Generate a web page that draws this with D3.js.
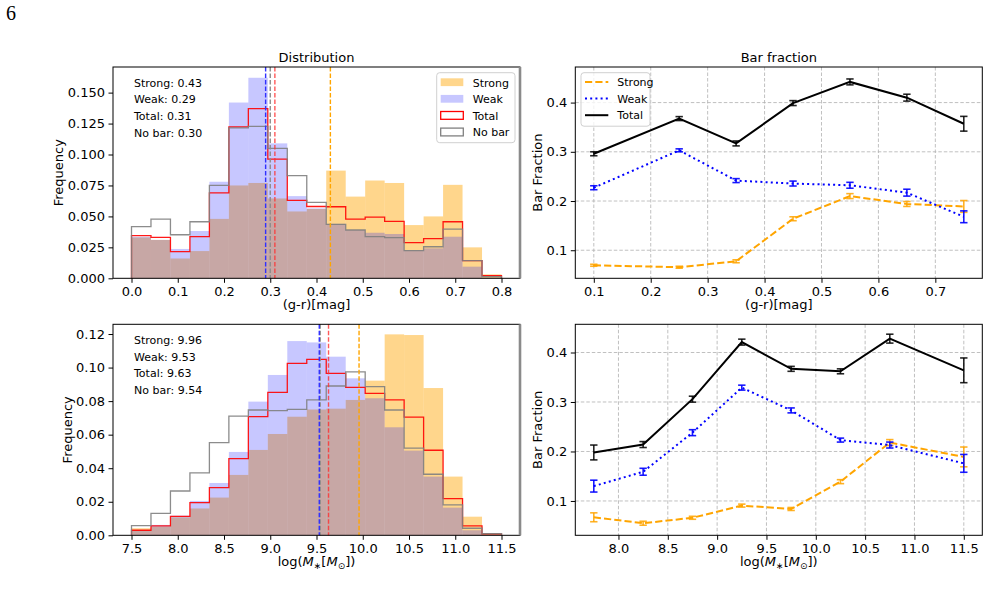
<!DOCTYPE html>
<html><head><meta charset="utf-8">
<script src="https://cdn.jsdelivr.net/npm/d3@7"></script>
<style>body{margin:0;background:#fff} text{font-family:"DejaVu Sans",sans-serif;fill:#000}</style>
</head><body><svg id="c" width="990" height="603"></svg>
<script>
// ---------- DATA ----------
const colorRange = [0, 0.8];
const massRange = [7.5, 11.5];
const nBins = 19;

const colorStrong = [0.033,0.031,0.016,0.022,0.048,0.075,0.077,0.0645,0.054,0.056,0.087,0.066,0.079,0.077,0.043,0.050,0.0755,0.025,0.0032];
const colorWeak   = [0.0335,0.031,0.0237,0.0382,0.078,0.142,0.162,0.109,0.0664,0.0565,0.044,0.039,0.0368,0.0358,0.0228,0.0242,0.0336,0.0094,0.0005];
const colorTotal  = [0.0344,0.0331,0.0215,0.0336,0.069,0.1223,0.137,0.0962,0.0629,0.058,0.0578,0.0478,0.0495,0.046,0.0288,0.032,0.0457,0.0142,0.0022];
const colorNoBar  = [0.0417,0.0478,0.0352,0.0457,0.075,0.1215,0.1228,0.105,0.083,0.0613,0.0435,0.039,0.0336,0.0328,0.0223,0.0255,0.0398,0.0142,0.0013];
const colorMedians = {Strong:0.43, Weak:0.29, Total:0.31, "No bar":0.30};

const massStrong = [0.0042,0.0052,0.0107,0.016,0.0225,0.036,0.0509,0.0604,0.0707,0.075,0.0755,0.0807,0.0922,0.1198,0.1194,0.0878,0.035,0.0111,0.0012];
const massWeak   = [0.0032,0.0062,0.0117,0.0205,0.0312,0.0497,0.0797,0.0956,0.1158,0.115,0.1065,0.0936,0.0817,0.0644,0.0505,0.035,0.0165,0.003,0.0005];
const massTotal  = [0.003,0.0056,0.0113,0.0195,0.0284,0.0457,0.0707,0.0852,0.1025,0.1049,0.0966,0.0882,0.0846,0.0807,0.0705,0.0507,0.0219,0.0056,0.0008];
const massNoBar  = [0.0058,0.0131,0.0264,0.0372,0.0552,0.0711,0.0747,0.0743,0.0751,0.0807,0.089,0.0974,0.0886,0.0747,0.052,0.0364,0.0181,0.0042,0.001];
const massMedians = {Strong:9.96, Weak:9.53, Total:9.63, "No bar":9.54};

const fracColorX = [0.1,0.25,0.35,0.45,0.55,0.65,0.75];
const fracColorStrong = [0.0695,0.0655,0.0776,0.164,0.21,0.194,0.189];
const fracColorStrongErr = [0.002,0.002,0.003,0.004,0.005,0.005,0.012];
const fracColorWeak = [0.227,0.303,0.2415,0.2355,0.232,0.217,0.168];
const fracColorWeakErr = [0.004,0.003,0.004,0.005,0.006,0.007,0.012];
const fracColorTotal = [0.296,0.3675,0.317,0.399,0.442,0.410,0.357];
const fracColorTotalErr = [0.004,0.004,0.005,0.005,0.006,0.007,0.015];

const fracMassX = [7.75,8.25,8.75,9.25,9.75,10.25,10.75,11.5];
const fracMassStrong = [0.067,0.055,0.066,0.0906,0.0838,0.139,0.218,0.189];
const fracMassStrongErr = [0.009,0.004,0.003,0.003,0.003,0.004,0.006,0.02];
const fracMassWeak = [0.130,0.159,0.238,0.329,0.283,0.223,0.213,0.176];
const fracMassWeakErr = [0.012,0.007,0.006,0.005,0.005,0.004,0.006,0.018];
const fracMassTotal = [0.198,0.214,0.3057,0.421,0.367,0.362,0.428,0.364];
const fracMassTotalErr = [0.015,0.006,0.006,0.006,0.005,0.005,0.009,0.025];

const colorXTicks = [0,0.1,0.2,0.3,0.4,0.5,0.6,0.7,0.8];
const colorYTicks = [0,0.025,0.05,0.075,0.1,0.125,0.15];
const massXTicks = [7.5,8,8.5,9,9.5,10,10.5,11,11.5];
const massYTicks = [0,0.02,0.04,0.06,0.08,0.1,0.12];
const fracColorXTicks = [0.1,0.2,0.3,0.4,0.5,0.6,0.7];
const fracMassXTicks = [8,8.5,9,9.5,10,10.5,11,11.5];
const fracYTicks = [0.1,0.2,0.3,0.4];
const seriesNames = ["Strong","Weak","Total","No bar"];

// ---------- STYLE ----------
const C = {Strong:"#ffa500", Weak:"#0000ff", Total:"#ff0000", "No bar":"#808080"};
const MED_C = {Strong:"#ffa500", Weak:"#3030ff", Total:"#ff3030", "No bar":"#8c8c8c"};
const OP_STRONG = 0.45, OP_WEAK = 0.22;
const svg = d3.select("#c");
svg.append("text").attr("x",6).attr("y",20).style("font-family","'Liberation Serif','DejaVu Serif',serif").style("font-size","20px").text("6");

function frame(g, w, h, greyRight){
  g.append("rect").attr("width",w).attr("height",h).attr("fill","none").attr("stroke","#000").attr("stroke-width",1);
  if(greyRight) g.append("line").attr("x1",w).attr("x2",w).attr("y1",0).attr("y2",h).attr("stroke","#8a8a8a").attr("stroke-width",2.6);
}
function axes(g, x, y, h, xt, yt, xf, yf){
  const ax = g.append("g").attr("transform",`translate(0,${h})`)
    .call(d3.axisBottom(x).tickValues(xt).tickFormat(d3.format(xf)).tickSize(4.5).tickPadding(3.5));
  const ay = g.append("g").call(d3.axisLeft(y).tickValues(yt).tickFormat(d3.format(yf)).tickSize(4.5).tickPadding(3.5));
  [ax,ay].forEach(a=>{a.select(".domain").remove(); a.selectAll("text").style("font-size","13px").style("font-family","'DejaVu Sans',sans-serif");
    a.selectAll("line").attr("stroke","#000").attr("stroke-width",1);});
}
function mathLabel(sel){
  sel.append("tspan").text("log(");
  sel.append("tspan").style("font-style","italic").text("M");
  sel.append("tspan").attr("dy",3).style("font-size","9px").text("∗");
  sel.append("tspan").attr("dy",-3).text("[");
  sel.append("tspan").style("font-style","italic").text("M");
  sel.append("tspan").attr("dy",3).style("font-size","9px").text("⊙");
  sel.append("tspan").attr("dy",-3).text("])");
}

function histPanel(opt){
  const {left,top,w,h,range,xDom,yDom,strong,weak,total,nobar,medians,xt,yt,yf,ylabX,labelDigits,xlabel,title} = opt;
  const g = svg.append("g").attr("transform",`translate(${left},${top})`);
  const x = d3.scaleLinear().domain(xDom).range([0,w]);
  const y = d3.scaleLinear().domain(yDom).range([h,0]);
  const edges = d3.range(nBins+1).map(i=>range[0]+i*(range[1]-range[0])/nBins);
  const bars = (vals,col,op)=> g.append("g").selectAll("rect").data(vals).join("rect")
      .attr("x",(d,i)=>x(edges[i])).attr("width",(d,i)=>x(edges[i+1])-x(edges[i]))
      .attr("y",d=>y(d)).attr("height",d=>y(0)-y(d)).attr("fill",col).attr("fill-opacity",op);
  bars(strong,C.Strong,OP_STRONG);
  bars(weak,C.Weak,OP_WEAK);
  const step = vals=>{
    let p = `M${x(edges[0])},${y(0)}`;
    vals.forEach((v,i)=>{p+=`L${x(edges[i])},${y(v)}L${x(edges[i+1])},${y(v)}`;});
    p += `L${x(edges[nBins])},${y(0)}`; return p;
  };
  g.append("path").attr("d",step(total)).attr("fill","none").attr("stroke",C.Total).attr("stroke-opacity",0.9).attr("stroke-width",1.3);
  g.append("path").attr("d",step(nobar)).attr("fill","none").attr("stroke",C["No bar"]).attr("stroke-opacity",0.9).attr("stroke-width",1.3);
  seriesNames.slice().reverse().forEach(k=>{
    g.append("line").attr("x1",x(medians[k])).attr("x2",x(medians[k])).attr("y1",0).attr("y2",h)
     .attr("stroke",MED_C[k]).attr("stroke-width",1.4).attr("stroke-dasharray","4.5,2").attr("stroke-opacity",k==="Total"?0.8:1);
  });
  seriesNames.forEach((k,i)=>{
    g.append("text").attr("x",21).attr("y",19.7+i*16.6).style("font-size","11px").text(`${k}: ${d3.format("."+labelDigits+"f")(medians[k])}`);
  });
  frame(g,w,h,true);
  axes(g,x,y,h,xt,yt,".1f",yf);
  g.append("text").attr("transform",`translate(${ylabX-left},${h/2}) rotate(-90)`).attr("text-anchor","middle").attr("dy","0.35em").style("font-size","13px").text("Frequency");
  const xl = g.append("text").attr("x",w/2).attr("y",h+31).attr("text-anchor","middle").style("font-size","13px");
  if(typeof xlabel==="string") xl.text(xlabel); else xlabel(xl);
  if(title) g.append("text").attr("x",w/2).attr("y",-5.5).attr("text-anchor","middle").style("font-size","13px").text(title);
  return g;
}

function fracPanel(opt){
  const {left,top,w,h,xDom,yDom,X,S,Se,W,We,T,Te,xt,xlabel,title} = opt;
  const g = svg.append("g").attr("transform",`translate(${left},${top})`);
  const x = d3.scaleLinear().domain(xDom).range([0,w]);
  const y = d3.scaleLinear().domain(yDom).range([h,0]);
  g.append("g").selectAll("line").data(xt).join("line").attr("x1",d=>x(d)).attr("x2",d=>x(d)).attr("y1",0).attr("y2",h)
   .attr("stroke","#b0b0b0").attr("stroke-width",1).attr("stroke-dasharray","3.5,2").attr("stroke-opacity",0.8);
  g.append("g").selectAll("line").data(fracYTicks).join("line").attr("y1",d=>y(d)).attr("y2",d=>y(d)).attr("x1",0).attr("x2",w)
   .attr("stroke","#b0b0b0").attr("stroke-width",1).attr("stroke-dasharray","3.5,2").attr("stroke-opacity",0.8);
  const series = [
    {v:S,e:Se,c:C.Strong,dash:"7.2,3.1",op:0.85},
    {v:W,e:We,c:C.Weak,dash:"2,3.2",op:0.9},
    {v:T,e:Te,c:"#000",dash:null,op:0.85}];
  const line = d3.line().x((d,i)=>x(X[i])).y(d=>y(d));
  series.forEach(s=>{
    const p = g.append("path").attr("d",line(s.v)).attr("fill","none").attr("stroke",s.c).attr("stroke-width",2);
    if(s.dash) p.attr("stroke-dasharray",s.dash);
    const eb = g.append("g").attr("stroke",s.c).attr("stroke-width",1.6).attr("stroke-opacity",s.op);
    s.v.forEach((v,i)=>{
      const xx=x(X[i]), y1=y(v-s.e[i]), y2=y(v+s.e[i]);
      eb.append("line").attr("x1",xx).attr("x2",xx).attr("y1",y1).attr("y2",y2);
      eb.append("line").attr("x1",xx-3.7).attr("x2",xx+3.7).attr("y1",y1).attr("y2",y1);
      eb.append("line").attr("x1",xx-3.7).attr("x2",xx+3.7).attr("y1",y2).attr("y2",y2);
    });
  });
  frame(g,w,h,false);
  axes(g,x,y,h,xt,fracYTicks,".1f",".1f");
  g.append("text").attr("transform",`translate(${537.5-left},${h/2}) rotate(-90)`).attr("text-anchor","middle").attr("dy","0.35em").style("font-size","13px").text("Bar Fraction");
  const xl = g.append("text").attr("x",w/2).attr("y",h+31).attr("text-anchor","middle").style("font-size","13px");
  if(typeof xlabel==="string") xl.text(xlabel); else xlabel(xl);
  if(title) g.append("text").attr("x",w/2).attr("y",-5.5).attr("text-anchor","middle").style("font-size","13px").text(title);
  return {g,x,y};
}

const L1=113, L2=575.3, W=407, T1=67, T2=324.3, H1=211.3, H2=211;

const tl = histPanel({left:L1,top:T1,w:W,h:H1,range:colorRange,xDom:[-0.04,0.84],yDom:[0,0.1707],
  strong:colorStrong,weak:colorWeak,total:colorTotal,nobar:colorNoBar,medians:colorMedians,
  xt:colorXTicks,yt:colorYTicks,yf:".3f",ylabX:58,labelDigits:2,xlabel:"(g-r)[mag]",title:"Distribution"});
histPanel({left:L1,top:T2,w:W,h:H2,range:massRange,xDom:[7.3,11.7],yDom:[0,0.1258],
  strong:massStrong,weak:massWeak,total:massTotal,nobar:massNoBar,medians:massMedians,
  xt:massXTicks,yt:massYTicks,yf:".2f",ylabX:67,labelDigits:2,xlabel:mathLabel,title:null});

const tr = fracPanel({left:L2,top:T1,w:W,h:H1,xDom:[0.0675,0.7825],yDom:[0.043,0.4723],
  X:fracColorX,S:fracColorStrong,Se:fracColorStrongErr,W:fracColorWeak,We:fracColorWeakErr,T:fracColorTotal,Te:fracColorTotalErr,
  xt:fracColorXTicks,xlabel:"(g-r)[mag]",title:"Bar fraction"});
fracPanel({left:L2,top:T2,w:W,h:H2,xDom:[7.5625,11.6875],yDom:[0.0306,0.457],
  X:fracMassX,S:fracMassStrong,Se:fracMassStrongErr,W:fracMassWeak,We:fracMassWeakErr,T:fracMassTotal,Te:fracMassTotalErr,
  xt:fracMassXTicks,xlabel:mathLabel,title:null});

function legendBox(g,x0,y0,w,h){
  g.append("rect").attr("x",x0).attr("y",y0).attr("width",w).attr("height",h).attr("rx",3)
   .attr("fill","#fff").attr("fill-opacity",0.8).attr("stroke","#d0d0d0").attr("stroke-width",1);
}
{
  const g = tl; const x0=436.7-L1, y0=72.7-T1;
  legendBox(g,x0,y0,78.3,70);
  seriesNames.forEach((k,i)=>{
    const yy = y0+5.6+i*16.6;
    const r = g.append("rect").attr("x",x0+4).attr("y",yy).attr("width",22.6).attr("height",7.8);
    if(k==="Strong") r.attr("fill",C.Strong).attr("fill-opacity",OP_STRONG);
    else if(k==="Weak") r.attr("fill",C.Weak).attr("fill-opacity",OP_WEAK);
    else r.attr("fill","none").attr("stroke",C[k]).attr("stroke-width",1.3);
    g.append("text").attr("x",x0+36).attr("y",yy+8.2).style("font-size","11px").text(k);
  });
}
{
  const g = tr.g; const x0=581-L2, y0=72.7-T1;
  legendBox(g,x0,y0,69,53.5);
  const st=[{k:"Strong",c:C.Strong,d:"7.2,3.1"},{k:"Weak",c:C.Weak,d:"2,3.2"},{k:"Total",c:"#000",d:null}];
  st.forEach((s,i)=>{
    const yy=y0+9.3+i*16.6;
    const l=g.append("line").attr("x1",x0+4).attr("x2",x0+27.3).attr("y1",yy).attr("y2",yy).attr("stroke",s.c).attr("stroke-width",2);
    if(s.d) l.attr("stroke-dasharray",s.d);
    g.append("text").attr("x",x0+36.3).attr("y",yy+4).style("font-size","11px").text(s.k);
  });
}
</script></body></html>
